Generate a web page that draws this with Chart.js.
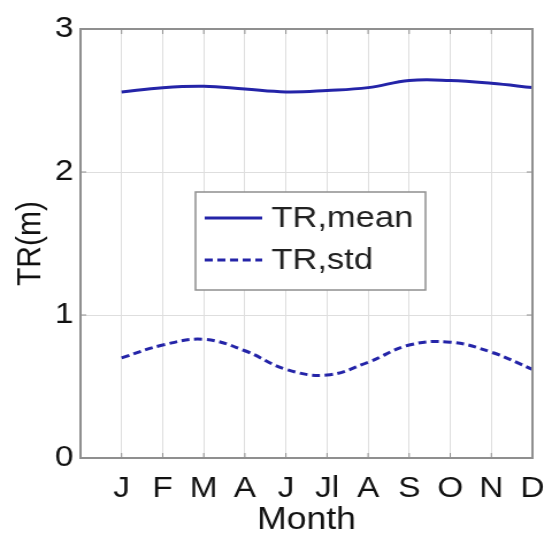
<!DOCTYPE html>
<html>
<head>
<meta charset="utf-8">
<script src="https://cdn.jsdelivr.net/npm/chart.js@4.4.1/dist/chart.umd.min.js"></script>
<style>
  html, body { margin: 0; padding: 0; background: #fff; overflow: hidden; }
  /* the original figure is a bit wider than tall in its lettering, so the
     drawing is done on a narrower canvas and stretched sideways */
  #wrap { width: 479px; height: 539px; transform: scaleX(1.15); transform-origin: 0 0; }
</style>
</head>
<body>
<div id="wrap"><canvas id="trChart" width="479" height="539"></canvas></div>
<script>
// month labels as printed on the x axis (May is not labelled in the original)
const months = ['J', 'F', 'M', 'A', 'J', 'Jl', 'A', 'S', 'O', 'N', 'D'];
const trMean = [2.56, 2.59, 2.60, 2.58, 2.56, 2.57, 2.59, 2.64, 2.64, 2.62, 2.59];
const trStd = [0.70, 0.79, 0.83, 0.75, 0.62, 0.58, 0.67, 0.79, 0.81, 0.74, 0.62];
const yTicks = [0, 1, 2, 3];

const lineColor = '#2424a8';
const fontFamily = '"Liberation Sans", Arial, sans-serif';

function toPoints(values) {
    return values.map((v, i) => ({ x: i + 1, y: v }));
}

// box around the plot area, inward ticks and the legend inside the axes
const boxPlugin = {
    id: 'box',
    afterDraw(chart) {
        const { ctx, chartArea: a } = chart;
        ctx.save();
        ctx.strokeStyle = '#8f8f8f';
        ctx.lineWidth = 2;
        ctx.strokeRect(a.left, a.top, a.right - a.left, a.bottom - a.top);

        ctx.lineWidth = 1;
        const xs = chart.scales.x, ys = chart.scales.y;
        ctx.beginPath();
        for (let i = 1; i <= months.length; i++) {
            const px = xs.getPixelForValue(i);
            ctx.moveTo(px, a.bottom); ctx.lineTo(px, a.bottom - 5);
            ctx.moveTo(px, a.top); ctx.lineTo(px, a.top + 5);
        }
        yTicks.forEach(v => {
            const py = ys.getPixelForValue(v);
            ctx.moveTo(a.left, py); ctx.lineTo(a.left + 5, py);
            ctx.moveTo(a.right, py); ctx.lineTo(a.right - 5, py);
        });
        ctx.stroke();

        // legend
        const lx = 170, ly = 192, lw = 200, lh = 98;
        ctx.fillStyle = '#fff';
        ctx.fillRect(lx, ly, lw, lh);
        ctx.strokeStyle = '#8f8f8f';
        ctx.lineWidth = 1.5;
        ctx.strokeRect(lx, ly, lw, lh);
        ctx.font = '30px ' + fontFamily;
        ctx.textBaseline = 'middle';
        ctx.fillStyle = '#222';
        chart.data.datasets.forEach((ds, i) => {
            const yy = ly + 26 + i * 42;
            ctx.strokeStyle = ds.borderColor;
            ctx.lineWidth = 3;
            ctx.setLineDash(ds.borderDash || []);
            ctx.beginPath();
            ctx.moveTo(lx + 8, yy); ctx.lineTo(lx + 58, yy);
            ctx.stroke();
            ctx.setLineDash([]);
            ctx.fillText(ds.label, lx + 66, yy + 1);
        });
        ctx.restore();
    }
};

new Chart(document.getElementById('trChart').getContext('2d'), {
    type: 'line',
    data: {
        datasets: [
            { label: 'TR,mean', data: toPoints(trMean), borderColor: lineColor, borderWidth: 3, pointRadius: 0, tension: 0.4, fill: false },
            { label: 'TR,std', data: toPoints(trStd), borderColor: lineColor, borderWidth: 3, borderDash: [7, 4], pointRadius: 0, tension: 0.4, fill: false }
        ]
    },
    options: {
        responsive: false,
        animation: false,
        layout: { padding: { left: 0, right: 16, top: 29, bottom: 0 } },
        plugins: { legend: { display: false }, tooltip: { enabled: false } },
        scales: {
            x: {
                type: 'linear',
                min: 0,
                max: months.length,
                afterBuildTicks: (scale) => { scale.ticks = months.map((m, i) => ({ value: i + 1 })); },
                ticks: {
                    callback: (v) => months[v - 1] || '',
                    color: '#111',
                    font: { family: fontFamily, size: 29 },
                    padding: 14,
                    maxRotation: 0,
                    autoSkip: false
                },
                grid: { color: '#dedede', lineWidth: 1, drawTicks: false },
                border: { display: false },
                title: { display: true, text: 'Month', color: '#111', font: { family: fontFamily, size: 31 }, padding: { top: 0, bottom: 0 } },
                afterFit: (scale) => { scale.height = 81; scale.paddingLeft = 0; scale.paddingRight = 0; }
            },
            y: {
                min: 0,
                max: 3,
                afterBuildTicks: (scale) => { scale.ticks = yTicks.map(v => ({ value: v })); },
                ticks: {
                    color: '#111',
                    font: { family: fontFamily, size: 29 },
                    padding: 6
                },
                grid: { color: '#dedede', lineWidth: 1, drawTicks: false },
                border: { display: false },
                title: { display: true, text: 'TR(m)', color: '#111', font: { family: fontFamily, size: 30 }, padding: { top: 9, bottom: 0 } },
                afterFit: (scale) => { scale.width = 70; scale.paddingTop = 0; scale.paddingBottom = 0; }
            }
        }
    },
    plugins: [boxPlugin]
});
</script>
</body>
</html>
